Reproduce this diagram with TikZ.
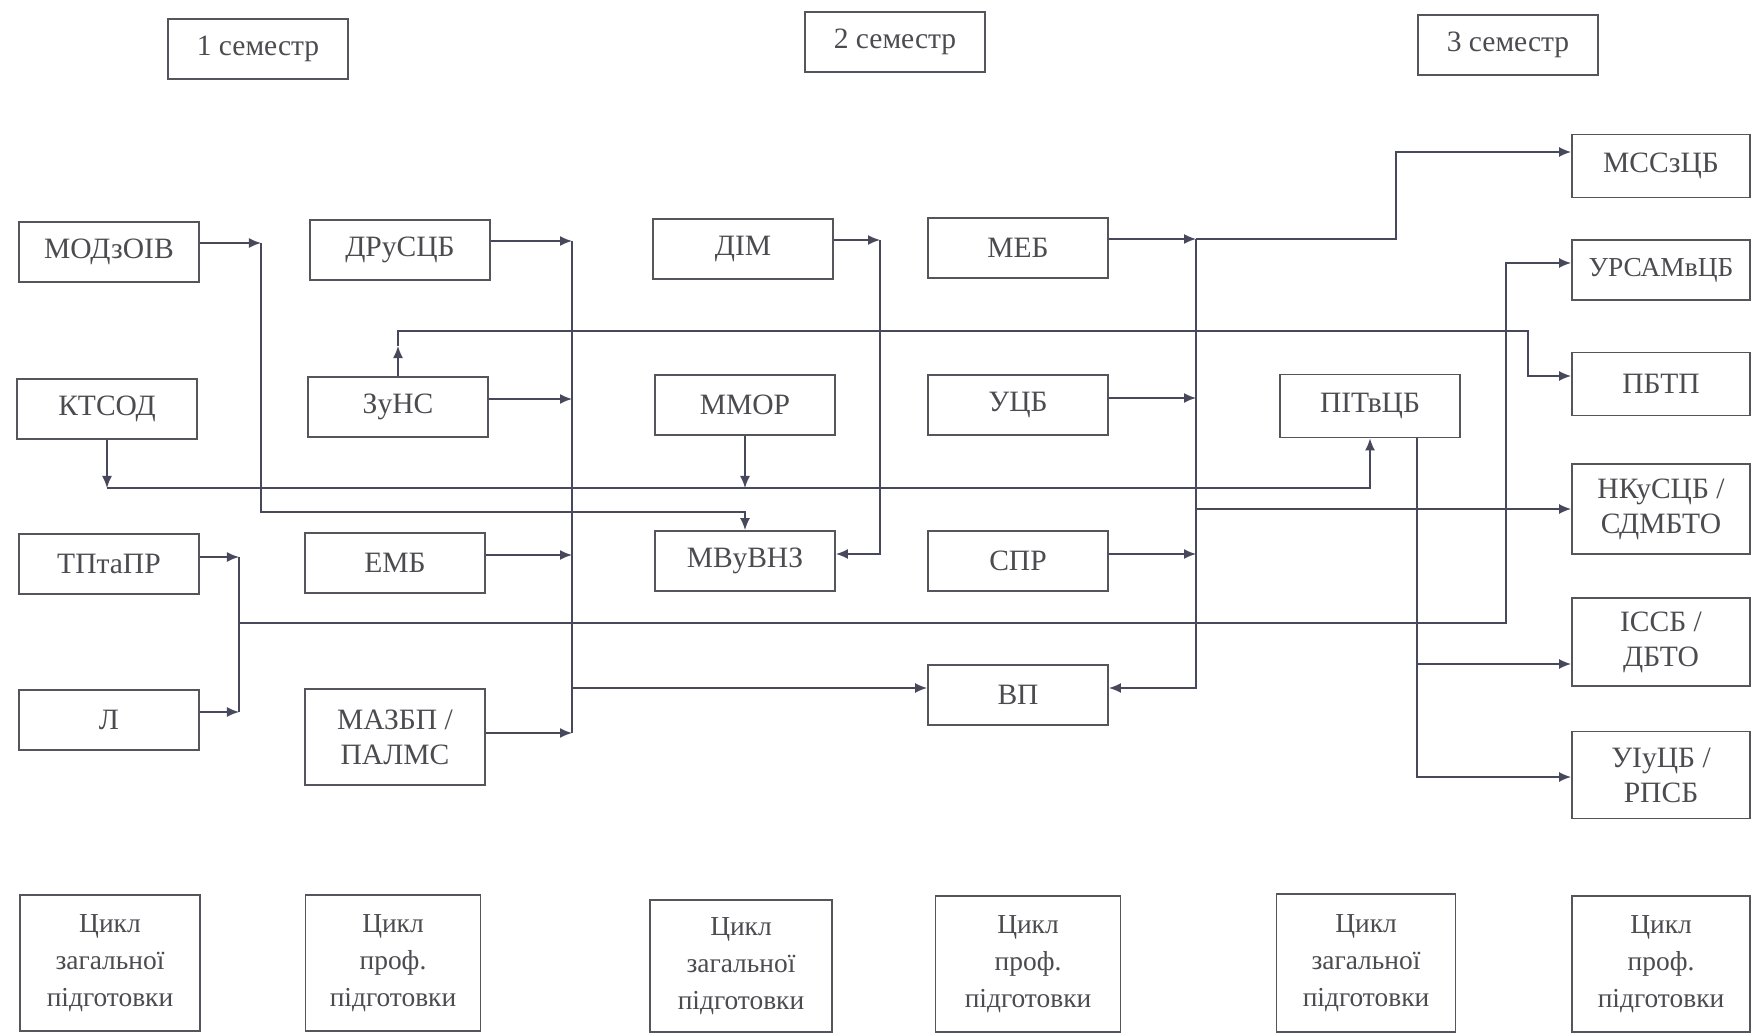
\documentclass[tikz,border=0pt]{standalone}
\usepackage{fontspec}
\setmainfont{Liberation Serif}
\usepackage{tikz}
\usetikzlibrary{arrows.meta}
\usetikzlibrary{arrows,positioning}
\definecolor{boxC}{RGB}{85,85,92}
\definecolor{lineC}{RGB}{72,72,92}
\definecolor{textC}{RGB}{75,75,80}
\tikzset{%
  >={Latex[width=1mm,length=1.2mm]},
  % Specifications for style of nodes:
       base/.style = {rectangle, draw=boxC, line width=0.5pt, text=textC,
                      inner sep=1pt, align=center,
                      font=\fontsize{8.4}{10}\selectfont},
   semester/.style = {base, minimum width=1.8cm, minimum height=0.6cm},
     course/.style = {base, minimum width=1.8cm, minimum height=0.6cm},
  courseTwo/.style = {base, minimum width=1.8cm, minimum height=0.92cm},
   cycleBox/.style = {base, minimum width=1.8cm, minimum height=1.36cm,
                      font=\fontsize{7.8}{10.6}\selectfont},
       link/.style = {draw=lineC, line width=0.45pt},
}

\begin{document}
\begin{tikzpicture}[x=0.01cm, y=0.01cm,
    every node/.style={fill=white}]

\useasboundingbox (0,0) rectangle (1752,-1034);

\node (Sem1)     [semester] at (258,-49)   {1 семестр};
\node (Sem2)     [semester] at (895,-42)   {2 семестр};
\node (Sem3)     [semester] at (1508,-45)  {3 семестр};

% 1 semester
\node (MODzOIV)  [course]    at (109,-252)  {МОДзОІВ};
\node (KTSOD)    [course]    at (107,-409)  {КТСОД};
\node (TPtaPR)   [course]    at (109,-564)  {ТПтаПР};
\node (L)        [course]    at (109,-720)  {Л};

\node (DRuSCB)   [course]    at (400,-250)  {ДРуСЦБ};
\node (ZuNS)     [course]    at (398,-407)  {ЗуНС};
\node (EMB)      [course]    at (395,-563)  {ЕМБ};
\node (MAZBP)    [courseTwo, minimum height=0.96cm] at (395,-737) {МАЗБП /\\ПАЛМС};

% 2 semester
\node (DIM)      [course]    at (743,-249)  {ДІМ};
\node (MMOR)     [course]    at (745,-405)  {ММОР};
\node (MVuVNZ)   [course]    at (745,-561)  {МВуВНЗ};

\node (MEB)      [course]    at (1018,-248) {МЕБ};
\node (UCB)      [course]    at (1018,-405) {УЦБ};
\node (SPR)      [course]    at (1018,-561) {СПР};
\node (VP)       [course]    at (1018,-695) {ВП};

% 3 semester
\node (PITvCB)   [course, minimum height=0.63cm] at (1370,-406) {ПІТвЦБ};

\node (MSSzCB)   [course, minimum width=1.78cm, minimum height=0.63cm] at (1661,-166) {МССзЦБ};
\node (URSAMvCB) [course, minimum width=1.78cm, font=\fontsize{7.8}{10}\selectfont] at (1661,-270) {УРСАМвЦБ};
\node (PBTP)     [course, minimum width=1.78cm, minimum height=0.63cm] at (1661,-384) {ПБТП};
\node (NKuSCB)   [courseTwo, minimum width=1.78cm, minimum height=0.9cm] at (1661,-509) {НКуСЦБ /\\СДМБТО};
\node (ISSB)     [courseTwo, minimum width=1.78cm, minimum height=0.88cm] at (1661,-642) {ІССБ /\\ДБТО};
\node (UIuCB)    [courseTwo, minimum width=1.78cm, minimum height=0.87cm] at (1661,-775) {УІуЦБ /\\РПСБ};

% cycles
\node (C1)       [cycleBox]  at (110,-963)  {Цикл\\загальної\\підготовки};
\node (C2)       [cycleBox, minimum width=1.75cm] at (393,-963) {Цикл\\проф.\\підготовки};
\node (C3)       [cycleBox, minimum width=1.82cm, minimum height=1.32cm] at (741,-966) {Цикл\\загальної\\підготовки};
\node (C4)       [cycleBox, minimum width=1.85cm] at (1028,-964) {Цикл\\проф.\\підготовки};
\node (C5)       [cycleBox, minimum width=1.79cm, minimum height=1.38cm] at (1366,-963) {Цикл\\загальної\\підготовки};
\node (C6)       [cycleBox, minimum width=1.78cm] at (1661,-964) {Цикл\\проф.\\підготовки};

\coordinate (aTop)  at (261,-243);
\coordinate (aBot)  at (261,-512);
\coordinate (bTop)  at (572,-241);
\coordinate (bZ)    at (572,-399);
\coordinate (bE)    at (572,-555);
\coordinate (bVP)   at (572,-688);
\coordinate (bBot)  at (572,-733);
\coordinate (cTop)  at (880,-240);
\coordinate (cBot)  at (880,-554);
\coordinate (dTop)  at (1196,-239);
\coordinate (dU)    at (1196,-398);
\coordinate (dN)    at (1196,-509);
\coordinate (dS)    at (1196,-554);
\coordinate (dBot)  at (1196,-688);
\coordinate (dUp)   at (1396,-152);
\coordinate (zMid)  at (398,-346);
\coordinate (zTurn) at (1528,-331);
\coordinate (zIn)   at (1528,-376);
\coordinate (kBend) at (107,-488);
\coordinate (tTop)  at (239,-557);
\coordinate (tMid)  at (239,-623);
\coordinate (tBot)  at (239,-712);
\coordinate (tTurn) at (1506,-623);
\coordinate (tUp)   at (1506,-263);
\coordinate (pI)    at (1417,-664);
\coordinate (pU)    at (1417,-777);

\draw[link,->] (MODzOIV.east |- aTop) -- (aTop);
\draw[link,->] (aTop) -- (aBot) -| (MVuVNZ.north);

\draw[link,->] (DRuSCB.east |- bTop) -- (bTop);
\draw[link,->] (ZuNS.east |- bZ) -- (bZ);
\draw[link,->] (EMB.east |- bE) -- (bE);
\draw[link,->] (MAZBP.east |- bBot) -- (bBot);
\draw[link] (bTop) -- (bBot);
\draw[link,->] (bVP) -- (VP.west |- bVP);

\draw[link,->] (DIM.east |- cTop) -- (cTop);
\draw[link,->] (cTop) -- (cBot) -- (MVuVNZ.east |- cBot);

\draw[link,->] (MEB.east |- dTop) -- (dTop);
\draw[link,->] (UCB.east |- dU) -- (dU);
\draw[link,->] (SPR.east |- dS) -- (dS);
\draw[link,->] (dTop) -- (dBot) -- (VP.east |- dBot);
\draw[link,->] (dTop) -| (dUp) -- (MSSzCB.west |- dUp);
\draw[link,->] (dN) -- (NKuSCB.west);

\draw[link,->] (ZuNS.north) -- (zMid);
\draw[link,->] (zMid) |- (zTurn) |- (PBTP.west |- zIn);

\draw[link,->] (KTSOD.south) -- (kBend);
\draw[link,->] (kBend) -| (PITvCB.south);
\draw[link,->] (MMOR.south) -- (MMOR.south |- kBend);

\draw[link,->] (TPtaPR.east |- tTop) -- (tTop);
\draw[link,->] (L.east |- tBot) -- (tBot);
\draw[link] (tTop) -- (tBot);
\draw[link,->] (tMid) -- (tTurn) -- (tUp) -- (URSAMvCB.west |- tUp);

\draw[link,->] (PITvCB.south -| pI) |- (ISSB.west |- pI);
\draw[link,->] (pI) |- (UIuCB.west |- pU);
  \end{tikzpicture}
\end{document}
